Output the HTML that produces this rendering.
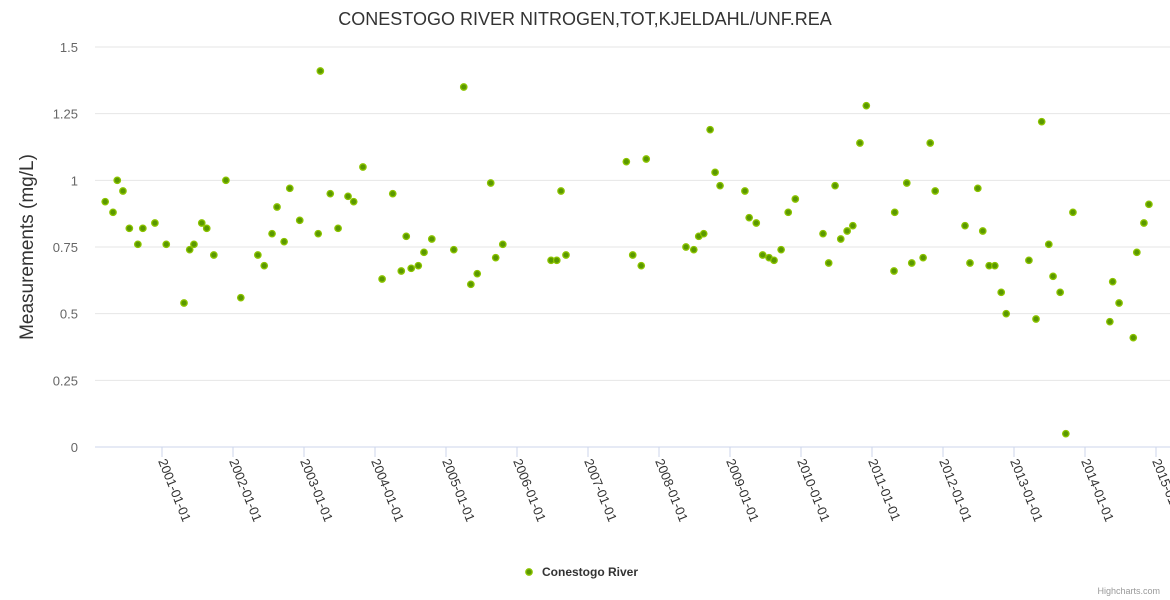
<!DOCTYPE html>
<html><head><meta charset="utf-8"><style>
body{margin:0;background:#fff;}
svg{display:block;font-family:"Liberation Sans",sans-serif;}
</style></head><body>
<svg id="chart" width="1170" height="600">
<text x="585" y="25" text-anchor="middle" font-size="18" fill="#333">CONESTOGO RIVER NITROGEN,TOT,KJELDAHL/UNF.REA</text>
<text transform="translate(33,247) rotate(-90)" text-anchor="middle" font-size="19" fill="#333">Measurements (mg/L)</text>
<g id="grid"></g><g id="xaxis"></g><g id="points"></g>
<g>
<circle cx="529" cy="572" r="3.2" fill="#5a9800" stroke="#8cc400" stroke-width="1.3"/>
<text x="542" y="576" font-size="12" font-weight="bold" fill="#333">Conestogo River</text>
</g>
<text x="1160" y="594" text-anchor="end" font-size="9" fill="#999">Highcharts.com</text>
</svg>
<script>
const dates=[2000.20,2000.31,2000.37,2000.45,2000.54,2000.66,2000.73,2000.90,2001.06,2001.31,2001.39,2001.45,2001.56,2001.63,2001.73,2001.90,2002.11,2002.35,2002.44,2002.55,2002.62,2002.72,2002.80,2002.94,2003.20,2003.23,2003.37,2003.48,2003.62,2003.70,2003.83,2004.10,2004.25,2004.37,2004.44,2004.51,2004.61,2004.69,2004.80,2005.11,2005.25,2005.35,2005.44,2005.63,2005.70,2005.80,2006.48,2006.56,2006.62,2006.69,2007.54,2007.63,2007.75,2007.82,2008.38,2008.49,2008.56,2008.63,2008.72,2008.79,2008.86,2009.21,2009.27,2009.37,2009.46,2009.55,2009.62,2009.72,2009.82,2009.92,2010.31,2010.39,2010.48,2010.56,2010.65,2010.73,2010.83,2010.92,2011.31,2011.32,2011.49,2011.56,2011.72,2011.82,2011.89,2012.31,2012.38,2012.49,2012.56,2012.65,2012.73,2012.82,2012.89,2013.21,2013.31,2013.39,2013.49,2013.55,2013.65,2013.73,2013.83,2014.35,2014.39,2014.48,2014.68,2014.73,2014.83,2014.90];
const values=[0.92,0.88,1.00,0.96,0.82,0.76,0.82,0.84,0.76,0.54,0.74,0.76,0.84,0.82,0.72,1.00,0.56,0.72,0.68,0.80,0.90,0.77,0.97,0.85,0.80,1.41,0.95,0.82,0.94,0.92,1.05,0.63,0.95,0.66,0.79,0.67,0.68,0.73,0.78,0.74,1.35,0.61,0.65,0.99,0.71,0.76,0.70,0.70,0.96,0.72,1.07,0.72,0.68,1.08,0.75,0.74,0.79,0.80,1.19,1.03,0.98,0.96,0.86,0.84,0.72,0.71,0.70,0.74,0.88,0.93,0.80,0.69,0.98,0.78,0.81,0.83,1.14,1.28,0.66,0.88,0.99,0.69,0.71,1.14,0.96,0.83,0.69,0.97,0.81,0.68,0.68,0.58,0.50,0.70,0.48,1.22,0.76,0.64,0.58,0.05,0.88,0.47,0.62,0.54,0.41,0.73,0.84,0.91];
const yTicks=[0,0.25,0.5,0.75,1,1.25,1.5];
const yTickLabels=["0","0.25","0.5","0.75","1","1.25","1.5"];
const xTickYears=[2001,2002,2003,2004,2005,2006,2007,2008,2009,2010,2011,2012,2013,2014,2015];
const xTickLabels=["2001-01-01","2002-01-01","2003-01-01","2004-01-01","2005-01-01","2006-01-01","2007-01-01","2008-01-01","2009-01-01","2010-01-01","2011-01-01","2012-01-01","2013-01-01","2014-01-01","2015-01-01"];
const NS="http://www.w3.org/2000/svg";
const X=t=>162+(t-2001)*71;
const Y=v=>447-v*(400/1.5);
function mk(tag,attrs,parent){const e=document.createElementNS(NS,tag);for(const k in attrs)e.setAttribute(k,attrs[k]);parent.appendChild(e);return e;}
const grid=document.getElementById('grid');
yTicks.forEach((v,i)=>{
 const l=mk('line',{x1:95,x2:1170,y1:Y(v),y2:Y(v),stroke:v===0?'#ccd6eb':'#e6e6e6','stroke-width':1},grid);
 
 
 const t=mk('text',{x:78,y:Y(v)+5,'text-anchor':'end','font-size':13,fill:'#666'},grid);
 t.textContent=yTickLabels[i];
 
 
});
const xa=document.getElementById('xaxis');
xTickYears.forEach((yr,i)=>{
 const x=X(yr);
 const tk=mk('line',{x1:x,x2:x,y1:447,y2:457,stroke:'#ccd6eb'},xa);
 
 
 const t=mk('text',{transform:`translate(${x-4},461) rotate(68)`,'font-size':13,fill:'#333'},xa);
 t.textContent=xTickLabels[i];
 
 
});
const pts=document.getElementById('points');
dates.forEach((d,i)=>{
 const c=mk('circle',{cx:X(d),cy:Y(values[i]),r:3.2,fill:'#5a9800',stroke:'#8cc400','stroke-width':1.3},pts);
 
 
});
</script>
</body></html>
